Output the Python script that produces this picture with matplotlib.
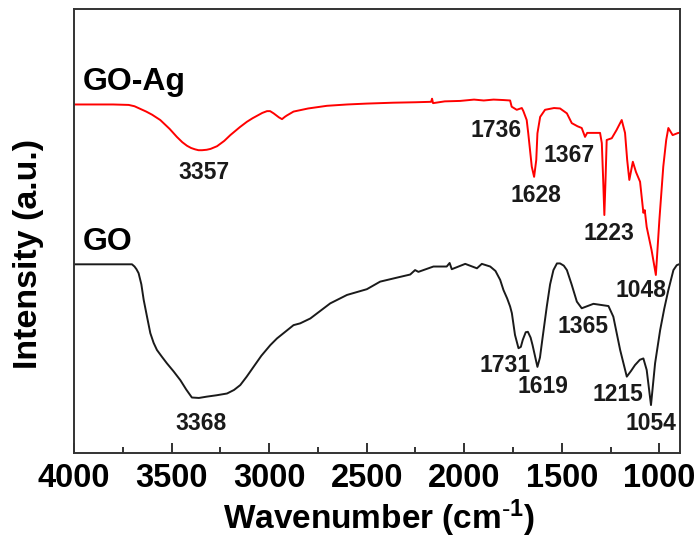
import matplotlib
matplotlib.use("Agg")
import matplotlib.pyplot as plt
from matplotlib.ticker import MultipleLocator

plt.rcParams['font.family'] = ['Liberation Sans', 'DejaVu Sans']

# GO-Ag spectrum (wavenumber, intensity a.u.)
goag_wn = [4000, 3800, 3720, 3690, 3660, 3630, 3600, 3558, 3510, 3473, 3445, 3421,
           3400, 3380, 3362, 3344, 3320, 3300, 3267, 3230, 3199, 3150, 3114, 3085,
           3060, 3035, 3011, 2995, 2977, 2950, 2934, 2920, 2910, 2875,
           2800, 2704, 2600, 2500, 2364, 2250, 2170, 2165, 2160, 2100, 2021, 1950,
           1900, 1850, 1800, 1765, 1757, 1731, 1705, 1697, 1680, 1672, 1654, 1642,
           1631, 1625, 1611, 1586, 1540, 1509, 1474, 1449, 1420, 1398, 1381, 1370,
           1355, 1304, 1295, 1288, 1282, 1276, 1270, 1244, 1220, 1193, 1176, 1165,
           1154, 1136, 1120, 1099, 1082, 1075, 1065, 1040, 1018, 1000, 980, 965,
           954, 932, 903, 894]
goag_int = [78.5, 78.5, 78.4, 78.1, 77.5, 76.9, 76.2, 75.0, 73.0, 71.2, 70.0, 69.2,
            68.7, 68.4, 68.2, 68.2, 68.3, 68.5, 69.1, 70.3, 71.6, 73.4, 74.6, 75.4,
            76.0, 76.6, 77.0, 77.0, 76.5, 75.6, 75.2, 75.7, 76.0, 76.9,
            77.6, 78.2, 78.5, 78.7, 78.9, 79.0, 79.1, 79.8, 78.8, 79.2, 79.3, 79.6,
            79.4, 79.6, 79.5, 79.4, 78.0, 77.3, 77.7, 77.0, 75.0, 72.0, 64.5, 62.2,
            66.0, 72.0, 75.7, 77.3, 77.7, 77.6, 76.5, 74.3, 73.6, 73.2, 71.2, 72.1,
            72.1, 72.1, 69.8, 61.5, 53.6, 61.5, 70.5, 70.9, 72.7, 75.0, 72.1, 66.0,
            61.5, 65.6, 63.3, 61.1, 54.1, 54.7, 50.9, 45.7, 40.1, 52.5, 64.5, 70.5,
            73.2, 71.6, 72.1, 72.1]

# GO spectrum (wavenumber, intensity a.u.)
go_wn = [4000, 3703, 3690, 3680, 3669, 3655, 3643, 3625, 3609, 3592, 3575, 3550,
         3524, 3490, 3455, 3425, 3396, 3360, 3319, 3270, 3216, 3180, 3148, 3115,
         3080, 3040, 2994, 2960, 2926, 2875, 2841, 2789, 2687, 2601, 2499, 2431,
         2345, 2277, 2252, 2235, 2158, 2090, 2075, 2064, 1995, 1935, 1910, 1867,
         1840, 1816, 1799, 1780, 1765, 1756, 1740, 1722, 1710, 1700, 1685, 1674,
         1660, 1650, 1625, 1612, 1600, 1577, 1560, 1543, 1525, 1509, 1490, 1474,
         1450, 1423, 1398, 1338, 1261, 1236, 1201, 1167, 1145, 1125, 1100, 1082,
         1065, 1043, 1022, 996, 975, 954, 928, 911, 894]
go_int = [42.5, 42.5, 42.0, 41.4, 40.5, 38.0, 34.5, 30.5, 27.0, 24.8, 23.2, 21.7,
          20.2, 18.4, 16.4, 14.3, 12.5, 12.4, 12.7, 13.0, 13.4, 14.2, 15.3, 17.2,
          19.4, 21.9, 24.3, 25.8, 27.0, 28.8, 29.2, 30.3, 33.7, 35.6, 36.9, 38.6,
          39.5, 40.2, 41.2, 40.8, 42.0, 42.0, 42.8, 41.4, 42.6, 41.6, 42.6, 42.0,
          41.0, 39.0, 36.7, 34.8, 33.0, 31.5, 26.6, 23.6, 23.9, 25.5, 27.2, 27.3,
          26.0, 24.3, 19.4, 21.5, 25.5, 33.0, 38.0, 41.2, 42.7, 42.7, 42.2, 41.2,
          38.0, 34.1, 32.6, 33.6, 33.1, 30.7, 23.2, 17.2, 18.5, 19.8, 21.0, 21.3,
          18.7, 10.8, 20.2, 27.7, 32.5, 36.7, 41.2, 42.3, 42.6]

# Peak annotations: (text, wavenumber, intensity)
goag_labels = ["3357", "1736", "1628", "1367", "1223", "1048"]
goag_lx = [3332, 1838, 1634, 1463, 1260, 1095]
goag_ly = [63.2, 72.7, 58.0, 67.1, 49.4, 36.5]
go_labels = ["3368", "1731", "1619", "1365", "1215", "1054"]
go_lx = [3351, 1792, 1598, 1391, 1212, 1041]
go_ly = [6.7, 19.8, 14.9, 28.6, 13.1, 6.7]

xticks = [4000, 3500, 3000, 2500, 2000, 1500, 1000]

fig = plt.figure(figsize=(6.99, 5.40), dpi=100)
ax = fig.add_axes([0.1059, 0.1611, 0.8670, 0.8222])

ax.plot(goag_wn, goag_int, color='#ff0000', lw=1.4)
ax.plot(go_wn, go_int, color='#1a1a1a', lw=1.4)

ax.set_xlim(4000, 894)
ax.set_ylim(0, 100)
ax.set_xticks(xticks)
ax.xaxis.set_minor_locator(MultipleLocator(250))
ax.set_yticks([])
ax.tick_params(axis='x', which='both', direction='in', top=False, width=1.3,
               colors='#222222', labelcolor='black')
ax.tick_params(axis='x', which='major', length=7, pad=7, labelsize=23.5)
ax.tick_params(axis='x', which='minor', length=4)
for lab in ax.get_xticklabels():
    lab.set_fontweight('bold')
for s in ax.spines.values():
    s.set_linewidth(1.4)
    s.set_color('#333333')

ax.set_xlabel(r'Wavenumber (cm$\mathregular{^{\text{-}1}}$)', fontsize=24, fontweight='bold')
ax.set_ylabel('Intensity (a.u.)', fontsize=24.5, fontweight='bold')
ax.xaxis.set_label_coords(0.5036, -0.10)
ax.yaxis.set_label_coords(-0.05, 0.448)

ax.text(3954, 81.8, 'GO-Ag', fontsize=23, fontweight='bold', ha='left', va='baseline')
ax.text(3954, 45.7, 'GO', fontsize=23, fontweight='bold', ha='left', va='baseline')

for t, x, y in zip(goag_labels, goag_lx, goag_ly):
    ax.text(x, y, t, fontsize=16.5, fontweight='bold', ha='center', va='center', color='#1a1a1a')
for t, x, y in zip(go_labels, go_lx, go_ly):
    ax.text(x, y, t, fontsize=16.5, fontweight='bold', ha='center', va='center', color='#1a1a1a')

fig.savefig('out.png', dpi=100)
